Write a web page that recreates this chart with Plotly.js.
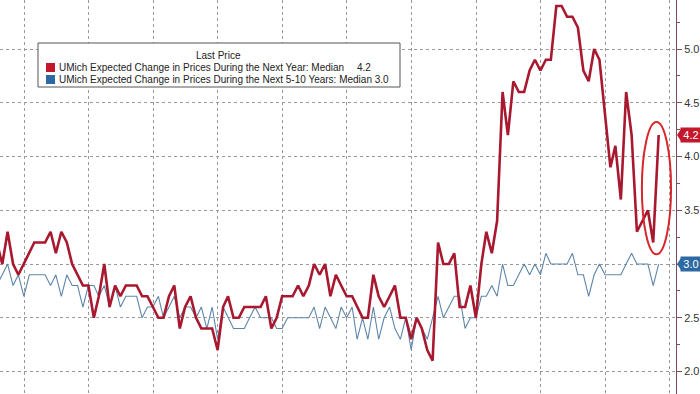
<!DOCTYPE html>
<html>
<head>
<meta charset="utf-8">
<script src="https://cdn.plot.ly/plotly-3.0.1.min.js"></script>
<style>
  html, body { margin: 0; padding: 0; background: #fff; }
  #chart { width: 700px; height: 394px; }
</style>
</head>
<body>
<div id="chart"></div>
<script>
// Monthly observations, July 2013 .. October 2023 (plotted at month end)
const startYear = 2013, startMonth = 7;

const nextYearMedian = [
  3.2, 3.0, 3.3, 3.0, 2.9, 3.0,
  3.1, 3.2, 3.2, 3.2, 3.3, 3.1, 3.3, 3.2, 3.0, 2.9, 2.8, 2.8,
  2.5, 2.7, 3.0, 2.6, 2.8, 2.7, 2.8, 2.8, 2.8, 2.7, 2.7, 2.6,
  2.5, 2.5, 2.7, 2.8, 2.4, 2.6, 2.7, 2.5, 2.4, 2.4, 2.4, 2.2,
  2.6, 2.7, 2.5, 2.5, 2.6, 2.6, 2.6, 2.6, 2.7, 2.4, 2.5, 2.7,
  2.7, 2.7, 2.8, 2.7, 2.8, 3.0, 2.9, 3.0, 2.7, 2.9, 2.8, 2.7,
  2.7, 2.6, 2.5, 2.5, 2.9, 2.7, 2.6, 2.7, 2.8, 2.5, 2.5, 2.3,
  2.5, 2.4, 2.2, 2.1, 3.2, 3.0, 3.0, 3.1, 2.6, 2.6, 2.8, 2.5,
  3.0, 3.3, 3.1, 3.4, 4.6, 4.2, 4.7, 4.6, 4.6, 4.8, 4.9, 4.8,
  4.9, 4.9, 5.4, 5.4, 5.3, 5.3, 5.2, 4.8, 4.7, 5.0, 4.9, 4.4,
  3.9, 4.1, 3.6, 4.6, 4.2, 3.3, 3.4, 3.5, 3.2, 4.2
];

const fiveToTenYearMedian = [
  2.8, 2.9, 3.0, 2.8, 2.9, 2.7,
  2.9, 2.9, 2.9, 2.9, 2.8, 2.9, 2.7, 2.9, 2.8, 2.8, 2.6, 2.8,
  2.8, 2.7, 2.8, 2.6, 2.8, 2.6, 2.7, 2.7, 2.7, 2.5, 2.6, 2.6,
  2.7, 2.5, 2.6, 2.7, 2.5, 2.6, 2.6, 2.5, 2.6, 2.4, 2.6, 2.3,
  2.6, 2.5, 2.4, 2.4, 2.4, 2.5, 2.6, 2.5, 2.5, 2.5, 2.4, 2.4,
  2.5, 2.5, 2.5, 2.5, 2.5, 2.6, 2.4, 2.6, 2.5, 2.4, 2.6, 2.5,
  2.6, 2.3, 2.5, 2.3, 2.6, 2.3, 2.5, 2.6, 2.4, 2.3, 2.5, 2.2,
  2.5, 2.4, 2.3, 2.5, 2.7, 2.5, 2.6, 2.7, 2.7, 2.4, 2.5, 2.5,
  2.7, 2.7, 2.8, 2.7, 3.0, 2.8, 2.8, 2.9, 3.0, 2.9, 3.0, 2.9,
  3.1, 3.0, 3.0, 3.0, 3.0, 3.1, 2.9, 2.9, 2.7, 2.9, 3.0, 2.9,
  2.9, 2.9, 2.9, 3.0, 3.1, 3.0, 3.0, 3.0, 2.8, 3.0
];

const seriesNames = [
  "UMich Expected Change in Prices During the Next Year: Median",
  "UMich Expected Change in Prices During the Next 5-10 Years: Median"
];
const yTickVals = [2.0, 2.5, 3.0, 3.5, 4.0, 4.5, 5.0];
const yTickText = ["2.0", "2.5", "3.0", "3.5", "4.0", "4.5", "5.0"];

// month-end dates
function pad(n) { return (n < 10 ? "0" : "") + n; }
const dates = nextYearMedian.map((_, i) => {
  const m0 = startMonth - 1 + i;
  const y = startYear + Math.floor(m0 / 12);
  const m = (m0 % 12) + 1;
  const last = new Date(Date.UTC(y, m, 0)).getUTCDate();
  return y + "-" + pad(m) + "-" + pad(last);
});

const RED = "#a8182f", BLUE = "#5d86ab";
const RED_TAG = "#c3172c", BLUE_TAG = "#2d6aa3";
const W = 676, H = 394;
const px = x => x / W, py = y => 1 - y / H;

const lastRed = nextYearMedian[nextYearMedian.length - 1];
const lastBlue = fiveToTenYearMedian[fiveToTenYearMedian.length - 1];
const lastDate = dates[dates.length - 1];
function shiftDate(d, days) {
  const t = new Date(d + "T00:00:00Z").getTime() + days * 86400000;
  return new Date(t).toISOString().slice(0, 10);
}
const tail = nextYearMedian.slice(-3);

const traces = [
  { x: dates, y: fiveToTenYearMedian, type: "scatter", mode: "lines",
    line: { color: BLUE, width: 1.1 }, name: seriesNames[1], showlegend: false, hoverinfo: "skip" },
  { x: dates, y: nextYearMedian, type: "scatter", mode: "lines",
    line: { color: RED, width: 2.6 }, name: seriesNames[0], showlegend: false, hoverinfo: "skip" }
];

const FONT = "Liberation Sans, Arial, sans-serif";
const shapes = [
  // legend box
  { type: "rect", xref: "paper", yref: "paper", x0: px(38), x1: px(400), y0: py(43), y1: py(87),
    fillcolor: "#ffffff", line: { color: "#555555", width: 1 }, layer: "above" },
  { type: "rect", xref: "paper", yref: "paper", x0: px(46), x1: px(55), y0: py(63), y1: py(72),
    fillcolor: RED_TAG, line: { width: 0 }, layer: "above" },
  { type: "rect", xref: "paper", yref: "paper", x0: px(46), x1: px(55), y0: py(75), y1: py(84),
    fillcolor: BLUE_TAG, line: { width: 0 }, layer: "above" },
  // highlight ellipse around the latest readings
  { type: "circle", xref: "x", yref: "y",
    x0: shiftDate(lastDate, -95), x1: shiftDate(lastDate, 70),
    y0: Math.min(...tail) - 0.11, y1: Math.max(...tail) + 0.12,
    line: { color: "#d8262c", width: 2 }, layer: "above" },
  // pointers of the last-value tags
  { type: "path", xref: "paper", yref: "y", xsizemode: "pixel", ysizemode: "pixel",
    xanchor: 1, yanchor: lastRed, path: "M 1 0 L 5 6 L 5 -6 Z", fillcolor: RED_TAG, line: { width: 0 } },
  { type: "path", xref: "paper", yref: "y", xsizemode: "pixel", ysizemode: "pixel",
    xanchor: 1, yanchor: lastBlue, path: "M 1 0 L 5 6 L 5 -6 Z", fillcolor: BLUE_TAG, line: { width: 0 } }
];

const annotations = [
  { xref: "paper", yref: "paper", x: px(194), y: py(56), xanchor: "left", yanchor: "middle",
    text: "Last Price", showarrow: false, font: { family: FONT, size: 10, color: "#222" } },
  { xref: "paper", yref: "paper", x: px(57), y: py(67.5), xanchor: "left", yanchor: "middle",
    text: seriesNames[0], showarrow: false, font: { family: FONT, size: 10, color: "#222" } },
  { xref: "paper", yref: "paper", x: px(373), y: py(67.5), xanchor: "right", yanchor: "middle",
    text: lastRed.toFixed(1), showarrow: false, font: { family: FONT, size: 10, color: "#222" } },
  { xref: "paper", yref: "paper", x: px(57), y: py(79.5), xanchor: "left", yanchor: "middle",
    text: seriesNames[1] + " " + lastBlue.toFixed(1), showarrow: false,
    font: { family: FONT, size: 10, color: "#222" } },
  // last-value tags on the axis
  { xref: "paper", yref: "y", x: 1, y: lastRed, xanchor: "left", yanchor: "middle", xshift: 4,
    text: lastRed.toFixed(1), showarrow: false, bgcolor: RED_TAG, borderpad: 1, width: 18,
    font: { family: FONT, size: 11, color: "#ffffff" } },
  { xref: "paper", yref: "y", x: 1, y: lastBlue, xanchor: "left", yanchor: "middle", xshift: 4,
    text: lastBlue.toFixed(1), showarrow: false, bgcolor: BLUE_TAG, borderpad: 1, width: 18,
    font: { family: FONT, size: 11, color: "#ffffff" } }
];

const layout = {
  width: 700, height: 394,
  margin: { l: 0, r: 24, t: 0, b: 0, pad: 0 },
  paper_bgcolor: "#ffffff", plot_bgcolor: "#ffffff",
  showlegend: false,
  xaxis: {
    type: "date", range: ["2013-08-18", "2024-02-06"],
    tick0: "2014-01-01", dtick: "M12", showticklabels: false, ticks: "",
    showgrid: true, gridcolor: "#9a9a9a", griddash: "dot", gridwidth: 1,
    zeroline: false, showline: false, fixedrange: true
  },
  yaxis: {
    side: "right", range: [1.791, 5.456],
    tickvals: yTickVals, ticktext: yTickText,
    ticks: "outside", ticklen: 5, tickwidth: 1, tickcolor: "#7a4d5a",
    tickfont: { family: FONT, size: 11, color: "#333" },
    showgrid: true, gridcolor: "#9a9a9a", griddash: "dot", gridwidth: 1,
    showline: true, linecolor: "#7a4d5a", linewidth: 1, mirror: false,
    zeroline: false, fixedrange: true,
    minor: { dtick: 0.25, tick0: 0, ticks: "outside", ticklen: 3, tickcolor: "#7a4d5a", showgrid: false }
  },
  shapes: shapes,
  annotations: annotations
};

Plotly.newPlot("chart", traces, layout, { displayModeBar: false, staticPlot: true });
</script>
</body>
</html>
